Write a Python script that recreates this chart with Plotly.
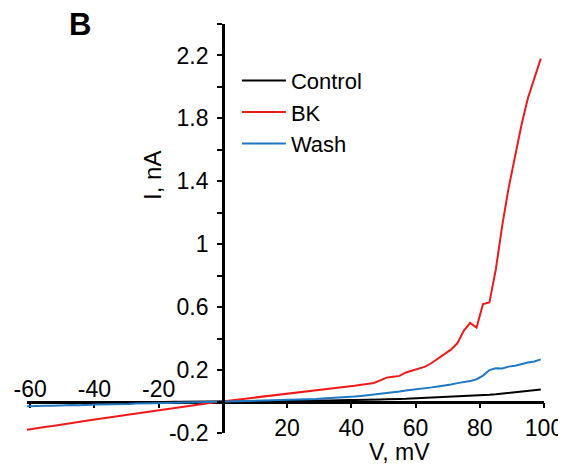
import plotly.graph_objects as go

V = [-61, -59, -57, -55, -53, -51, -49, -47, -45, -43, -41, -39, -37, -35, -33, -31,
     -29, -27, -25, -23, -21, -19, -17, -15, -13, -11, -9, -7, -5, -3, -1,
     1, 3, 5, 7, 9, 11, 13, 15, 17, 19, 21, 23, 25, 27, 29, 31, 33, 35, 37, 39,
     41, 43, 45, 47, 49, 51, 53, 55, 57, 59, 61, 63, 65, 67, 69, 71, 73, 75, 77, 79,
     81, 83, 85, 87, 89, 91, 93, 95, 97, 99]

control = [-0.010, -0.009, -0.011, -0.008, -0.009, -0.007, -0.009, -0.006, -0.008, -0.006,
           -0.007, -0.005, -0.006, -0.005, -0.006, -0.004, -0.005, -0.003, -0.004, -0.003,
           -0.004, -0.002, -0.003, -0.002, -0.002, -0.001, -0.002, -0.001, -0.001, 0.000, 0.000,
           0.001, 0.001, 0.002, 0.001, 0.002, 0.003, 0.002, 0.003, 0.004, 0.003,
           0.004, 0.005, 0.004, 0.006, 0.005, 0.007, 0.006, 0.008, 0.008, 0.010,
           0.009, 0.011, 0.012, 0.011, 0.013, 0.014, 0.013, 0.016, 0.017, 0.019,
           0.020, 0.022, 0.024, 0.023, 0.027, 0.028, 0.031, 0.033, 0.035, 0.038,
           0.040, 0.043, 0.046, 0.050, 0.053, 0.058, 0.061, 0.066, 0.070, 0.077]

bk = [-0.180, -0.172, -0.168, -0.160, -0.155, -0.148, -0.142, -0.137, -0.130, -0.124,
      -0.118, -0.112, -0.105, -0.098, -0.092, -0.086, -0.080, -0.074, -0.068, -0.061,
      -0.055, -0.050, -0.044, -0.038, -0.032, -0.027, -0.022, -0.016, -0.011, -0.006, -0.001,
      0.004, 0.008, 0.013, 0.017, 0.022, 0.027, 0.032, 0.037, 0.043, 0.049,
      0.055, 0.060, 0.064, 0.069, 0.074, 0.078, 0.083, 0.087, 0.091, 0.096,
      0.100, 0.106, 0.112, 0.118, 0.135, 0.152, 0.158, 0.163, 0.185, 0.198,
      0.210, 0.222, 0.245, 0.272, 0.300, 0.330, 0.370, 0.450, 0.500, 0.470,
      0.620, 0.630, 0.840, 1.120, 1.360, 1.560, 1.760, 1.930, 2.050, 2.180]

wash = [-0.030, -0.028, -0.029, -0.026, -0.027, -0.024, -0.025, -0.022, -0.023, -0.020,
        -0.021, -0.019, -0.019, -0.017, -0.017, -0.015, -0.015, -0.013, -0.013, -0.011,
        -0.012, -0.010, -0.009, -0.008, -0.007, -0.006, -0.005, -0.004, -0.003, -0.002, 0.000,
        0.001, 0.002, 0.002, 0.003, 0.004, 0.005, 0.005, 0.007, 0.008, 0.009,
        0.010, 0.012, 0.013, 0.015, 0.016, 0.019, 0.021, 0.023, 0.026, 0.029,
        0.032, 0.036, 0.040, 0.045, 0.049, 0.054, 0.059, 0.064, 0.070, 0.074,
        0.080, 0.086, 0.090, 0.096, 0.101, 0.108, 0.117, 0.123, 0.130, 0.142,
        0.165, 0.200, 0.212, 0.210, 0.222, 0.228, 0.240, 0.248, 0.255, 0.268]

y_ticks = [-0.2, 0, 0.2, 0.4, 0.6, 0.8, 1.0, 1.2, 1.4, 1.6, 1.8, 2.0, 2.2, 2.4]
y_labels = ["-0.2", "", "0.2", "", "0.6", "", "1", "", "1.4", "", "1.8", "", "2.2", ""]
x_pos_ticks = [20, 40, 60, 80, 100]
x_pos_labels = ["20", "40", "60", "80", "100"]
x_neg_ticks = [-60, -40, -20]
x_neg_labels = ["-60", "-40", "-20"]

X_RANGE = [-61, 100]
Y_RANGE = [-0.2, 2.4]
FONT = "Liberation Sans, Arial, sans-serif"

fig = go.Figure()
fig.add_trace(go.Scatter(x=V, y=control, mode="lines", name="Control",
                         line=dict(color="#000000", width=2)))
fig.add_trace(go.Scatter(x=V, y=bk, mode="lines", name="BK",
                         line=dict(color="#ee1a1a", width=2)))
fig.add_trace(go.Scatter(x=V, y=wash, mode="lines", name="Wash",
                         line=dict(color="#1f78c1", width=2)))
# invisible trace to activate the top overlay axis
fig.add_trace(go.Scatter(x=[X_RANGE[0]], y=[0], xaxis="x2", mode="markers",
                         marker=dict(opacity=0), showlegend=False, hoverinfo="skip"))

x0_frac = (0 - X_RANGE[0]) / (X_RANGE[1] - X_RANGE[0])
y0_frac = (0 - Y_RANGE[0]) / (Y_RANGE[1] - Y_RANGE[0])

# page body has an 8px default margin, so the figure is 8px smaller
fig.update_layout(
    width=558, height=460,
    margin=dict(l=19, r=22, t=16, b=35, autoexpand=False),
    paper_bgcolor="white", plot_bgcolor="white",
    font=dict(family=FONT, size=23, color="black"),
    showlegend=True,
    legend=dict(x=0.406, y=0.913, xanchor="left", yanchor="top",
                bgcolor="rgba(0,0,0,0)", font=dict(size=22), itemwidth=44,
                tracegroupgap=0),
    xaxis=dict(range=X_RANGE, anchor="free", position=y0_frac, showgrid=False,
               zeroline=False, showline=True, linecolor="black", linewidth=2.5,
               tickvals=x_pos_ticks, ticktext=x_pos_labels, ticks="outside",
               ticklen=5, tickwidth=2, automargin=False,
               tickcolor="black", tickfont=dict(size=23), layer="below traces"),
    xaxis2=dict(range=X_RANGE, overlaying="x", anchor="free", position=y0_frac,
                side="top", showgrid=False, zeroline=False, showline=False,
                tickvals=x_neg_ticks, ticktext=x_neg_labels, ticks="inside",
                ticklen=5, tickwidth=2, automargin=False,
                tickcolor="black", tickfont=dict(size=23), layer="below traces"),
    yaxis=dict(range=Y_RANGE, anchor="free", position=x0_frac, showgrid=False,
               zeroline=False, showline=True, linecolor="black", linewidth=2.5,
               tickvals=y_ticks, ticktext=y_labels, ticks="outside", ticklen=5,
               tickwidth=2, tickcolor="black", tickfont=dict(size=23),
               ticklabelstandoff=4, automargin=False),
    annotations=[
        dict(text="<b>B</b>", xref="paper", yref="paper", x=0.1025, y=1.0,
             showarrow=False, font=dict(size=31), xanchor="center", yanchor="middle"),
        dict(text="V, mV", xref="x", yref="paper", x=55, y=-0.046,
             showarrow=False, font=dict(size=23), xanchor="center", yanchor="middle"),
        dict(text="I, nA", xref="paper", yref="paper", x=0.2437, y=0.631,
             showarrow=False, font=dict(size=24), textangle=-90,
             xanchor="center", yanchor="middle"),
    ],
)

fig.write_html("out.html")
